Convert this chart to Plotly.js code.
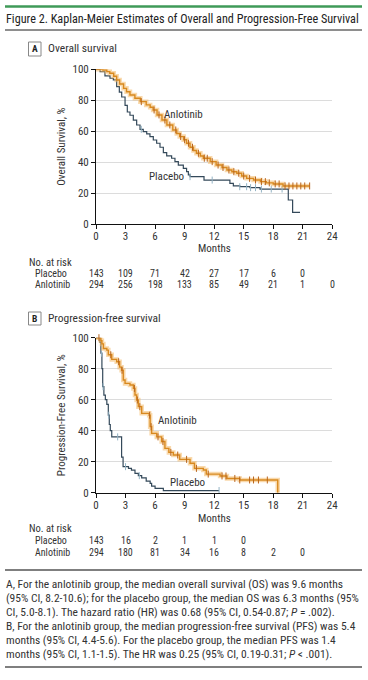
<!DOCTYPE html>
<html><head><meta charset="utf-8">
<script src="https://cdn.plot.ly/plotly-3.0.1.min.js"></script>
<style>html,body{margin:0;padding:0;background:#fff}#chart{width:368px;height:680px}</style>
</head><body><div id="chart"></div>
<script>
// ---------- DATA ----------
var monthTicks = [0, 3, 6, 9, 12, 15, 18, 21, 24];

// Panel A: overall survival (step points)
var osPlaceboT = [0, 0.41, 0.91, 1.42, 1.76, 2.1, 2.37, 2.61, 2.95, 3.18, 3.45, 3.79, 4.13, 4.47, 4.8, 5.15, 5.48, 5.82, 6.16, 6.5, 6.84, 7.18, 7.68, 8.02, 8.36, 8.87, 9.2, 9.38, 9.55, 10.97, 13.6, 13.95, 14.6, 15.64, 16.66, 19.53, 19.97, 20.72];
var osPlaceboS = [100, 98.5, 95.7, 94.2, 93.1, 88.8, 85.3, 82.1, 76.7, 72.4, 70.3, 67.2, 64, 61.2, 59.7, 58.2, 56.5, 54.3, 52.2, 49.6, 46.1, 44, 42.5, 40.3, 38.1, 36, 33.8, 31.7, 30.6, 28.4, 26.3, 24.6, 24.1, 23.5, 22.6, 15.5, 7.5, 7.5];
var osAnloT = [0, 0.7, 1.1, 1.4, 1.8, 2.1, 2.4, 2.8, 3.1, 3.45, 3.95, 4.5, 5.1, 5.5, 5.8, 6.2, 6.7, 7.2, 7.8, 8.2, 8.5, 8.9, 9.2, 9.55, 9.9, 10.2, 10.6, 10.9, 11.6, 12.2, 12.8, 13.3, 13.8, 14.3, 14.8, 15.3, 16.0, 16.7, 17.3, 18.0, 19.0, 21.7];
var osAnloS = [100, 99.5, 98.5, 97.4, 95.5, 93.1, 90.5, 87.7, 85.5, 83.4, 81.3, 79.1, 77, 75.5, 73.7, 70.5, 67.2, 64, 60.8, 58.5, 56.5, 54.5, 52.2, 49.6, 47.5, 45.7, 44, 42.5, 40.3, 38.1, 36.5, 34.9, 33.8, 32.8, 31, 29.5, 28.4, 27.4, 26.6, 25.9, 24.6, 24.6];
var osPlaceboCens = [4.6, 9.55, 11.8, 14.6, 15.3, 15.7, 16.2, 16.8, 17.8, 18.9];
var osAnloCens = [4.6, 5.9, 6.4, 7.0, 7.5, 8.1, 8.6, 9.0, 9.4, 9.8, 10.4, 11.0, 11.3, 11.8, 12.4, 12.9, 13.5, 14.0, 14.5, 15.0, 15.6, 16.2, 16.8, 17.2, 17.6, 18.2, 18.6, 19.2, 19.6, 20.0, 20.4, 20.8, 21.2, 21.7];

// Panel B: progression-free survival
var pfsPlaceboT = [0, 0.4, 0.5, 0.6, 0.68, 0.8, 0.95, 1.1, 1.25, 1.35, 1.45, 1.6, 2.6, 2.75, 3.3, 3.6, 3.96, 4.3, 4.64, 5.1, 5.5, 5.65, 6.0, 6.84, 12.5];
var pfsPlaceboS = [100, 97, 90, 80, 68.4, 63, 60, 57, 50, 44, 40, 36, 23, 16.8, 15.7, 14.6, 12.5, 11, 9.5, 7.5, 6, 4.3, 2.8, 1.4, 1.4];
var pfsAnloT = [0, 0.5, 0.6, 0.75, 1.1, 1.25, 1.6, 2.1, 2.4, 2.6, 2.77, 2.95, 3.45, 3.8, 3.96, 4.13, 4.3, 4.64, 5.4, 5.5, 5.65, 6.17, 6.67, 7.0, 7.4, 7.85, 8.5, 9.55, 10.0, 10.9, 11.2, 12.6, 13.3, 14.6, 18.45, 18.46];
var pfsAnloS = [100, 98, 96, 93, 92, 89, 86, 84.5, 81, 79, 72.7, 70.5, 69.5, 67.3, 63, 59.8, 55.5, 51.2, 50, 42.6, 38.3, 36, 33, 28.6, 26, 24.3, 21.5, 19, 15.7, 14.6, 12, 10.8, 9.2, 8.2, 8.2, 0];
var pfsPlaceboCens = [0.55, 0.72, 1.3, 2.2, 3.0, 4.4, 12.5];
var pfsAnloCens = [0.3, 1.5, 2.3, 2.65, 3.9, 4.2, 4.45, 5.45, 5.6, 6.3, 6.8, 7.6, 8.3, 9.2, 10.2, 11.4, 12.8, 13.2, 14.1, 14.6, 15.6, 16.0, 16.5, 17.4];

// Numbers at risk
var osRiskPlacebo = [143, 109, 71, 42, 27, 17, 6, 0];
var osRiskAnlo = [294, 256, 198, 133, 85, 49, 21, 1, 0];
var pfsRiskPlacebo = [143, 16, 2, 1, 1, 0];
var pfsRiskAnlo = [294, 180, 81, 34, 16, 8, 2, 0];

// ---------- DRAWING ----------
var W = 368, H = 680;
function py(p){ return 1 - p / H; }
function px(p){ return p / W; }
function stepAt(T, S, t){ var v = S[0]; for (var i = 0; i < T.length; i++){ if (T[i] <= t) v = S[i]; } return v; }

var FONT = "Liberation Sans Narrow, Arial Narrow, Roboto Condensed, Lato, sans-serif";
var TXT = '#333';
var cPlacebo = '#34495a', cPlaceboCens = '#93b3c4';
var cAnlo = '#d8891f', cAnloHalo = 'rgba(244,186,104,0.55)', cAnloCens = '#b9651c';

function kmTraces(T, S, color, width, halo, cens, censColor, xa, ya){
  var tr = [];
  if (halo) tr.push({x:T, y:S, xaxis:xa, yaxis:ya, mode:'lines', line:{shape:'hv', color:halo, width:4.5}, cliponaxis:false, hoverinfo:'skip'});
  tr.push({x:T, y:S, xaxis:xa, yaxis:ya, mode:'lines', line:{shape:'hv', color:color, width:width}, cliponaxis:false, hoverinfo:'skip'});
  tr.push({x:cens, y:cens.map(function(t){return stepAt(T,S,t);}), xaxis:xa, yaxis:ya, mode:'markers',
    marker:{symbol:'line-ns-open', size:5, color:censColor, line:{color:censColor, width:1}}, cliponaxis:false, hoverinfo:'skip'});
  return tr;
}

var data = [].concat(
  kmTraces(osPlaceboT, osPlaceboS, cPlacebo, 1.2, null, osPlaceboCens, cPlaceboCens, 'x', 'y'),
  kmTraces(osAnloT, osAnloS, cAnlo, 1.4, cAnloHalo, osAnloCens, cAnloCens, 'x', 'y'),
  kmTraces(pfsPlaceboT, pfsPlaceboS, cPlacebo, 1.2, null, pfsPlaceboCens, cPlaceboCens, 'x2', 'y2'),
  kmTraces(pfsAnloT, pfsAnloS, cAnlo, 1.4, cAnloHalo, pfsAnloCens, cAnloCens, 'x2', 'y2')
);

var xDom = [px(96), px(332.3)];
function xAxis(anchor){
  return {domain:xDom, range:[0,24], anchor:anchor, tickvals:monthTicks, ticktext:monthTicks.map(String),
    showgrid:false, zeroline:false, showline:true, linecolor:'#111', linewidth:1,
    ticks:'outside', ticklen:4, tickcolor:'#111', tickwidth:1, ticklabelstandoff:-2,
    tickfont:{family:FONT, size:11, color:TXT}, fixedrange:true};
}
function yAxis(anchor, dom, title){
  return {domain:dom, range:[0,100], anchor:anchor, tickvals:[0,20,40,60,80,100],
    showgrid:true, gridcolor:'#dcdcdc', gridwidth:1, zeroline:false, showline:true, linecolor:'#111', linewidth:1,
    ticks:'outside', ticklen:4, tickcolor:'#111', tickwidth:1,
    tickfont:{family:FONT, size:11, color:TXT},
    title:{text:title, font:{family:FONT, size:11, color:TXT}, standoff:4}, fixedrange:true};
}

var ann = [];
function txt(x, y, s, opt){
  opt = opt || {};
  ann.push({xref:opt.xref||'paper', yref:'paper', x:opt.xref ? x : px(x), y:py(y), text:s, showarrow:false,
    xanchor:opt.xa||'left', yanchor:'middle', borderpad:0, font:{family:FONT, size:opt.size||11, color:opt.color||TXT}});
}
function dtxt(xa, ya, x, y, s){
  ann.push({xref:xa, yref:ya, x:x, y:y, text:s, showarrow:false, xanchor:'center', yanchor:'middle', borderpad:0,
    font:{family:FONT, size:11, color:TXT}});
}

// title
txt(5, 19, 'Figure 2. Kaplan-Meier Estimates of Overall and Progression-Free Survival', {size:12.2, color:'#222'});
// panel labels
txt(34.7, 49, '<b>A</b>', {xa:'center', size:9.5, color:'#222'});
txt(47, 48.5, 'Overall survival', {size:11.5});
txt(34.7, 318.5, '<b>B</b>', {xa:'center', size:9.5, color:'#222'});
txt(47, 318, 'Progression-free survival', {size:11.5});
// curve labels
dtxt('x', 'y', 8.9, 71, 'Anlotinib');
dtxt('x', 'y', 7.2, 31, 'Placebo');
dtxt('x2', 'y2', 8.3, 46.5, 'Anlotinib');
dtxt('x2', 'y2', 9.3, 6.5, 'Placebo');
// months labels
txt(12, 248, 'Months', {xref:'x', xa:'center'});
txt(12, 518, 'Months', {xref:'x2', xa:'center'});
// at-risk tables
function riskTable(xa, yTop, rowP, rowA, vP, vA){
  txt(28, yTop, 'No. at risk', {size:10.5});
  txt(34, rowP, 'Placebo', {size:10});
  txt(34, rowA, 'Anlotinib', {size:10});
  vP.forEach(function(v, i){ txt(monthTicks[i], rowP, String(v), {xref:xa, xa:'center', size:10}); });
  vA.forEach(function(v, i){ txt(monthTicks[i], rowA, String(v), {xref:xa, xa:'center', size:10}); });
}
riskTable('x', 262, 273, 284.5, osRiskPlacebo, osRiskAnlo);
riskTable('x2', 528, 540, 552, pfsRiskPlacebo, pfsRiskAnlo);

// caption
var capLines = [
  'A, For the anlotinib group, the median overall survival (OS) was 9.6 months',
  '(95% CI, 8.2-10.6); for the placebo group, the median OS was 6.3 months (95%',
  'CI, 5.0-8.1). The hazard ratio (HR) was 0.68 (95% CI, 0.54-0.87; <i>P</i> = .002).',
  'B, For the anlotinib group, the median progression-free survival (PFS) was 5.4',
  'months (95% CI, 4.4-5.6). For the placebo group, the median PFS was 1.4',
  'months (95% CI, 1.1-1.5). The HR was 0.25 (95% CI, 0.19-0.31; <i>P</i> &lt; .001).'
];
capLines.forEach(function(s, i){ txt(5, 583.5 + i * 14, s, {size:11.5}); });

var shapes = [
  {type:'line', xref:'paper', yref:'paper', x0:px(5), x1:px(362), y0:py(6.5), y1:py(6.5), line:{color:'#3f9a58', width:2.5}},
  {type:'line', xref:'paper', yref:'paper', x0:px(5), x1:px(362), y0:py(30), y1:py(30), line:{color:'#8e8e8e', width:2}},
  {type:'rect', xref:'paper', yref:'paper', x0:px(28.5), x1:px(41), y0:py(56), y1:py(42), line:{color:'#888', width:1}},
  {type:'rect', xref:'paper', yref:'paper', x0:px(28.5), x1:px(41), y0:py(325), y1:py(312), line:{color:'#888', width:1}},
  {type:'line', xref:'paper', yref:'paper', x0:px(5), x1:px(362), y0:py(570), y1:py(570), line:{color:'#555', width:1.5}},
  {type:'line', xref:'paper', yref:'paper', x0:px(5), x1:px(362), y0:py(667), y1:py(667), line:{color:'#555', width:1.5}}
];

var layout = {
  width:W, height:H, margin:{l:0, r:0, t:0, b:0}, paper_bgcolor:'#fff', plot_bgcolor:'#fff', showlegend:false,
  font:{family:FONT, color:TXT},
  xaxis:xAxis('y'), yaxis:yAxis('x', [py(224), py(69.3)], 'Overall Survival, %'),
  xaxis2:xAxis('y2'), yaxis2:yAxis('x2', [py(492.7), py(337.7)], 'Progression-Free Survival, %'),
  annotations:ann, shapes:shapes
};
Plotly.newPlot('chart', data, layout, {staticPlot:true, displayModeBar:false});
</script></body></html>
